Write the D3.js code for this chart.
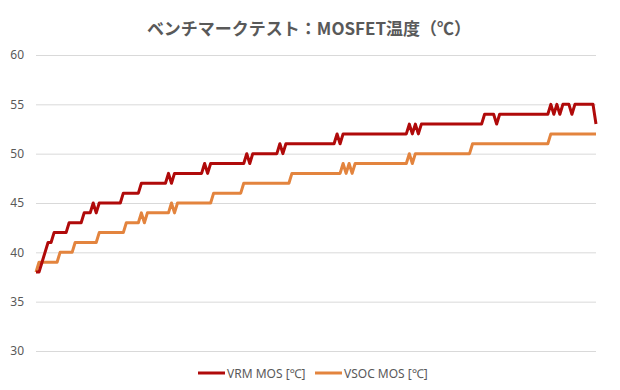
<!DOCTYPE html>
<html>
<head>
<meta charset="utf-8">
<script src="https://cdn.jsdelivr.net/npm/d3@7"></script>
<style>
  body { margin: 0; background: #fff; }
  text { font-family: "Noto Sans CJK JP", "Noto Sans", sans-serif; }
</style>
</head>
<body>
<div id="chart"></div>
<script>
// chart texts
const title = 'ベンチマークテスト：MOSFET温度（℃）';
const seriesNames = ['VRM MOS [℃]', 'VSOC MOS [℃]'];
const yTicks = [30, 35, 40, 45, 50, 55, 60];

// VRM MOS readings, one per sample
const vrm = [
  38, 38, 39, 40, 41, 41, 42, 42, 42, 42, 42, 43, 43, 43, 43, 43, 44, 44, 44, 45,
  44, 45, 45, 45, 45, 45, 45, 45, 45, 46, 46, 46, 46, 46, 46, 47, 47, 47, 47, 47,
  47, 47, 47, 47, 48, 47, 48, 48, 48, 48, 48, 48, 48, 48, 48, 48, 49, 48, 49, 49,
  49, 49, 49, 49, 49, 49, 49, 49, 49, 49, 50, 49, 50, 50, 50, 50, 50, 50, 50, 50,
  50, 51, 50, 51, 51, 51, 51, 51, 51, 51, 51, 51, 51, 51, 51, 51, 51, 51, 51, 51,
  52, 51, 52, 52, 52, 52, 52, 52, 52, 52, 52, 52, 52, 52, 52, 52, 52, 52, 52, 52,
  52, 52, 52, 52, 53, 52, 53, 52, 53, 53, 53, 53, 53, 53, 53, 53, 53, 53, 53, 53,
  53, 53, 53, 53, 53, 53, 53, 53, 53, 54, 54, 54, 54, 53, 54, 54, 54, 54, 54, 54,
  54, 54, 54, 54, 54, 54, 54, 54, 54, 54, 54, 55, 54, 55, 54, 55, 55, 55, 54, 55,
  55, 55, 55, 55, 55, 55, 53
];

// VSOC MOS readings, one per sample
const vsoc = [
  38, 39, 39, 39, 39, 39, 39, 39, 40, 40, 40, 40, 40, 41, 41, 41, 41, 41, 41, 41,
  41, 42, 42, 42, 42, 42, 42, 42, 42, 42, 43, 43, 43, 43, 43, 44, 43, 44, 44, 44,
  44, 44, 44, 44, 44, 45, 44, 45, 45, 45, 45, 45, 45, 45, 45, 45, 45, 45, 45, 46,
  46, 46, 46, 46, 46, 46, 46, 46, 46, 47, 47, 47, 47, 47, 47, 47, 47, 47, 47, 47,
  47, 47, 47, 47, 47, 48, 48, 48, 48, 48, 48, 48, 48, 48, 48, 48, 48, 48, 48, 48,
  48, 48, 49, 48, 49, 48, 49, 49, 49, 49, 49, 49, 49, 49, 49, 49, 49, 49, 49, 49,
  49, 49, 49, 49, 50, 49, 50, 50, 50, 50, 50, 50, 50, 50, 50, 50, 50, 50, 50, 50,
  50, 50, 50, 50, 50, 51, 51, 51, 51, 51, 51, 51, 51, 51, 51, 51, 51, 51, 51, 51,
  51, 51, 51, 51, 51, 51, 51, 51, 51, 51, 51, 52, 52, 52, 52, 52, 52, 52, 52, 52,
  52, 52, 52, 52, 52, 52, 52
];

const colors = ['#b00a0a', '#e3843e'];

const width = 620;
const height = 390;
const plotLeft = 36, plotRight = 596, plotTop = 55, plotBottom = 351;

const svg = d3.select('#chart').append('svg')
  .attr('width', width)
  .attr('height', height);

/* Scale */
const xScale = d3.scaleLinear()
  .domain([0, vrm.length - 1])
  .range([plotLeft, plotRight]);

const yScale = d3.scaleLinear()
  .domain([30, 60])
  .range([plotBottom, plotTop]);

// title
svg.append('text')
  .attr('x', 309)
  .attr('y', 27)
  .attr('text-anchor', 'middle')
  .attr('dominant-baseline', 'central')
  .style('font-size', '17px')
  .style('font-weight', 'bold')
  .style('fill', '#595959')
  .text(title);

/* grid + y axis */
const yAxis = d3.axisLeft(yScale)
  .tickValues(yTicks)
  .tickSize(-(plotRight - plotLeft))
  .tickPadding(12);

const yg = svg.append('g')
  .attr('class', 'yaxis')
  .attr('transform', `translate(${plotLeft}, 0)`)
  .call(yAxis);
yg.select('.domain').remove();
yg.selectAll('.tick line')
  .attr('stroke', '#d9d9d9')
  .attr('stroke-width', 1);
yg.selectAll('.tick text')
  .style('font-size', '12px')
  .style('fill', '#595959')
  .style('font-family', '"Noto Sans", sans-serif');

/* lines */
const line = d3.line()
  .x((d, i) => xScale(i))
  .y(d => yScale(d));

const seriesData = [vrm, vsoc];

// orange first so the red sits on top
[1, 0].forEach(k => {
  svg.append('path')
    .attr('class', 'line')
    .attr('fill', 'none')
    .attr('stroke', colors[k])
    .attr('stroke-width', 3)
    .attr('stroke-linejoin', 'round')
    .attr('d', line(seriesData[k]));
});

/* legend */
const legendX = [198, 315];
const legend = svg.append('g').attr('class', 'legend');
seriesNames.forEach((name, k) => {
  legend.append('line')
    .attr('x1', legendX[k])
    .attr('x2', legendX[k] + 27)
    .attr('y1', 373)
    .attr('y2', 373)
    .attr('stroke', colors[k])
    .attr('stroke-width', 3);
  legend.append('text')
    .attr('x', legendX[k] + 29)
    .attr('y', 373)
    .attr('dominant-baseline', 'central')
    .style('font-size', '12px')
    .style('fill', '#595959')
    .style('font-family', '"Noto Sans", sans-serif')
    .text(name);
});
</script>
</body>
</html>
